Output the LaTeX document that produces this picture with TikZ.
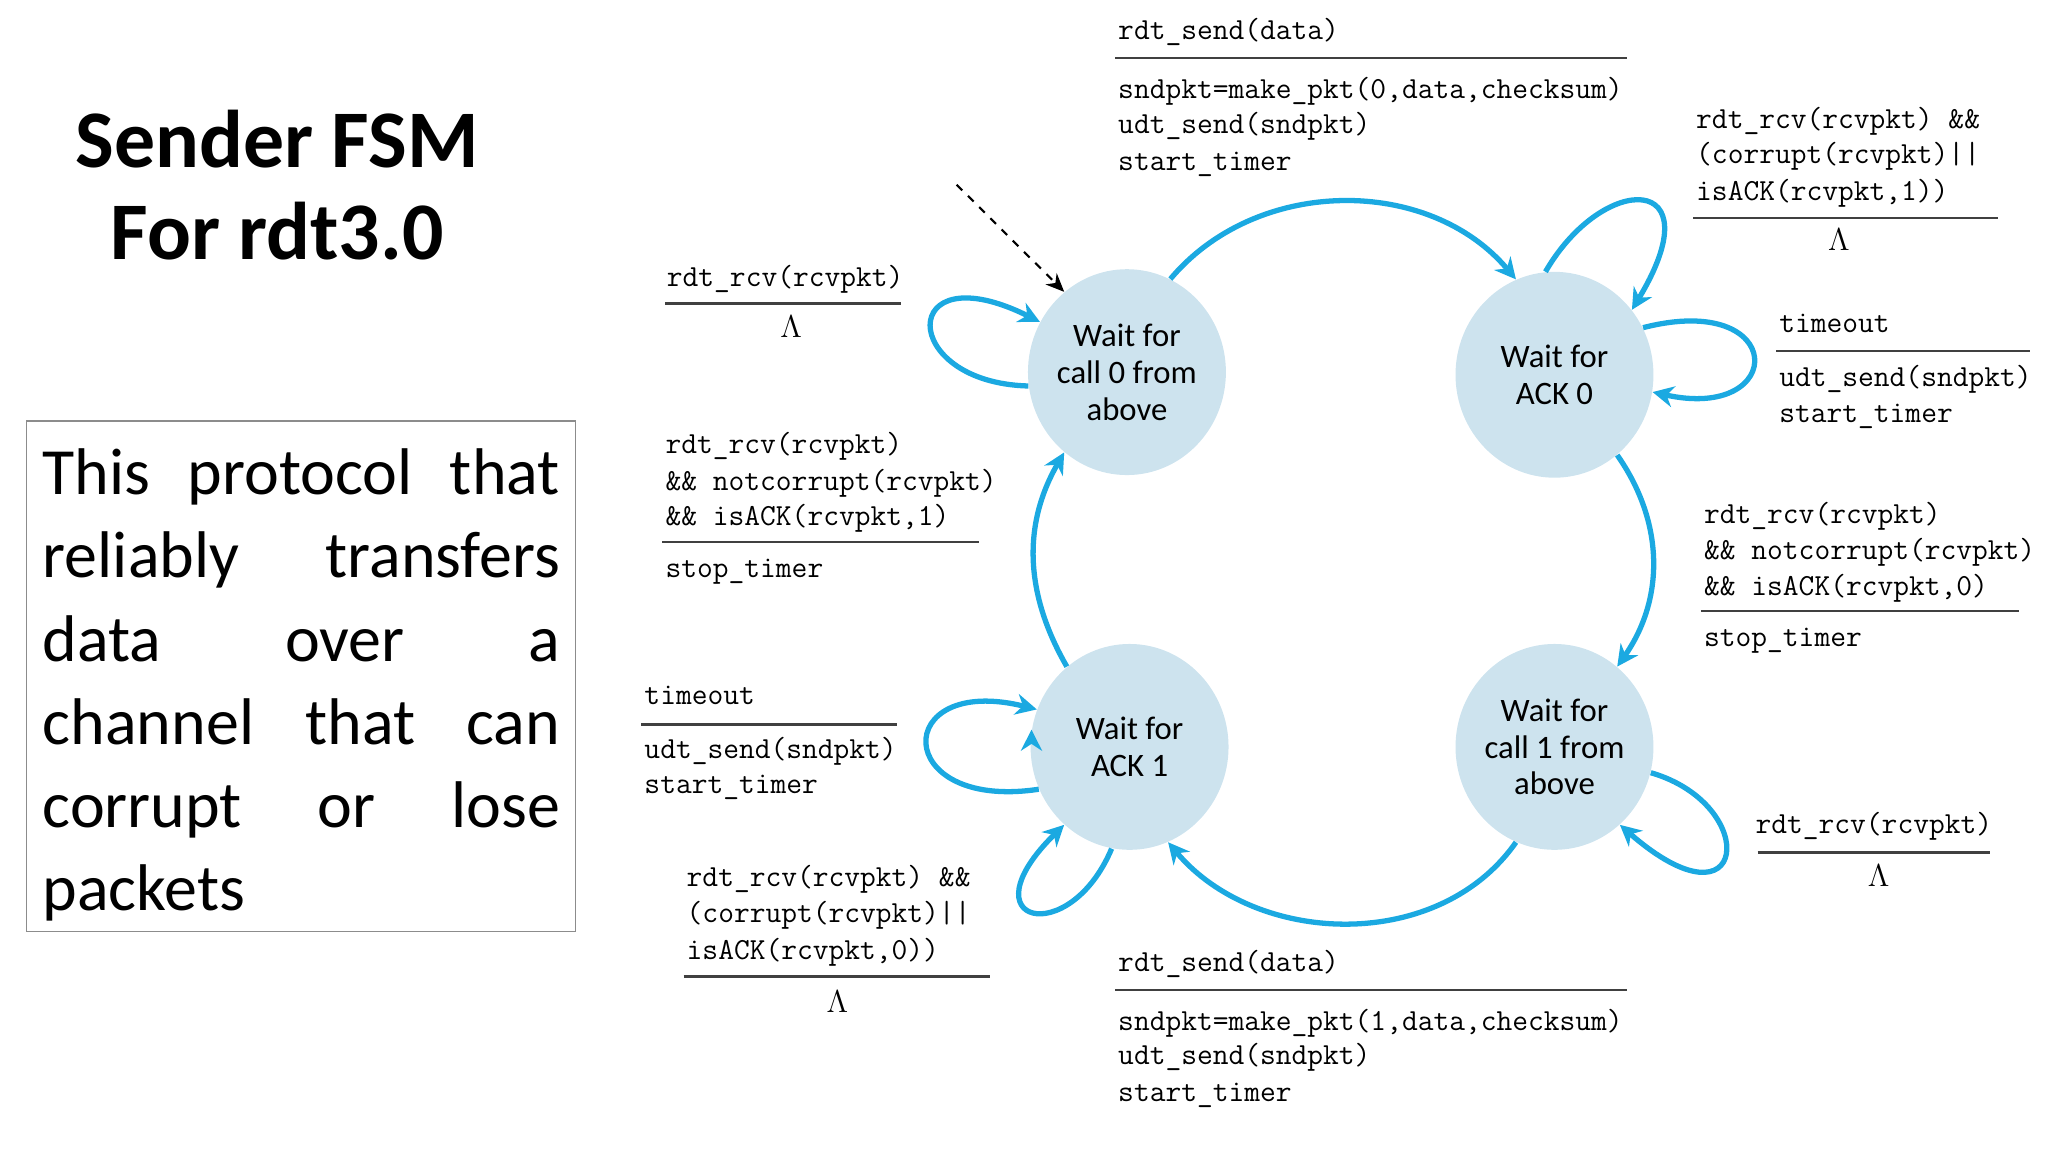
\documentclass[tikz,border=0pt]{standalone}
\usepackage{fontspec}
\setmainfont{Carlito}
\usetikzlibrary{shapes.geometric,arrows.meta}
\definecolor{arr}{HTML}{1BA9E1}
\definecolor{st}{HTML}{CDE3EE}
\begin{document}
\begin{tikzpicture}[x=0.5pt,y=-0.5pt,
  state/.style={ellipse,fill=st,minimum width=75pt,minimum height=78pt,inner sep=0pt,align=center,font=\fontsize{12.4}{14}\selectfont},
  tr/.style={draw=arr,line width=2pt,-{Stealth[length=8pt,width=8pt]}},
  lab/.style={anchor=base west,inner sep=0pt,font=\fontsize{11.6}{13.5}\ttfamily},
  rule/.style={draw=black!75,line width=0.8pt},
  box/.style={anchor=base west,inner sep=0pt,font=\fontsize{25}{30}\selectfont}]
\useasboundingbox (0,0) rectangle (1552,873);
% title
\node[inner sep=0pt,anchor=base,font=\fontsize{31}{34}\selectfont\bfseries] (t1) at (210,127) {Sender FSM};
\node[inner sep=0pt,anchor=base,font=\fontsize{31}{34}\selectfont\bfseries] (t2) at (210,197) {For rdt3.0};
% text box
\draw[draw=black!45,line width=0.6pt] (20,319) rectangle (436,706);
\node[box] (b1) at (32,375) {\makebox[196pt][s]{This protocol that}};
\node[box] (b2) at (32,438) {\makebox[196pt][s]{reliably transfers}};
\node[box] (b3) at (32,501) {\makebox[196pt][s]{data over a}};
\node[box] (b4) at (32,564) {\makebox[196pt][s]{channel that can}};
\node[box] (b5) at (32,627) {\makebox[196pt][s]{corrupt or lose}};
\node[box] (b6) at (32,690) {packets};
% states
\node[state] (w0) at (854,282) {Wait for\\call 0 from\\above};
\node[state] (a0) at (1178,284) {Wait for\\ACK 0};
\node[state] (a1) at (856,566) {Wait for\\ACK 1};
\node[state] (w1) at (1178,566) {Wait for\\call 1 from\\above};
% initial
\coordinate (init) at (725,140);
\draw[dashed,line width=0.8pt,-{Stealth[length=7pt,width=6pt]}] (init) -- (w0.128);
% main transitions
\draw[tr] (w0.65) to[out=50,in=130] (a0.112);
\draw[tr] (a0.-52) to[out=-55,in=55] (w1.52);
\draw[tr] (w1.-112) to[out=-125,in=-50] (a1.-68);
\draw[tr] (a1.128) to[out=120,in=-120] (w0.-128);
% self loops
\draw[tr] (w0.188) .. controls (680,290) and (680,190) .. (w0.150);
\draw[tr] (a0.95) .. controls (1215,130) and (1300,130) .. (a0.40);
\draw[tr] (a0.28) .. controls (1355,220) and (1355,320) .. (a0.-10);
\draw[tr] (a1.-30+200) ;
\draw[tr] (a1.-155) .. controls (675,615) and (675,510) .. (a1.158);
\draw[tr] (a1.-100) .. controls (810,720) and (730,700) .. (a1.-130);
\draw[tr] (w1.-15) .. controls (1335,610) and (1325,710) .. (w1.-50);
% labels
\node[lab] (l1a) at (847,30) {rdt\_send(data)};
\draw[rule] (845,44) -- (1233,44);
\node[lab] (l1b) at (847,75) {sndpkt=make\_pkt(0,data,checksum)};
\node[lab] (l1c) at (847,101) {udt\_send(sndpkt)};
\node[lab] (l1d) at (847,129) {start\_timer};
\node[lab] (l2a) at (1285,97) {rdt\_rcv(rcvpkt) \&\&};
\node[lab] (l2b) at (1285,124) {(corrupt(rcvpkt)||};
\node[lab] (l2c) at (1285,152) {isACK(rcvpkt,1))};
\draw[rule] (1283,165) -- (1514,165);
\node[lab] (l2d) at (1385,190) {$\Lambda$};
\node[lab] (l3a) at (1348,252) {timeout};
\draw[rule] (1346,266) -- (1538,266);
\node[lab] (l3b) at (1348,293) {udt\_send(sndpkt)};
\node[lab] (l3c) at (1348,320) {start\_timer};
\node[lab] (l4a) at (1291,397) {rdt\_rcv(rcvpkt)};
\node[lab] (l4b) at (1291,424) {\&\& notcorrupt(rcvpkt)};
\node[lab] (l4c) at (1291,451) {\&\& isACK(rcvpkt,0)};
\draw[rule] (1289,463) -- (1530,463);
\node[lab] (l4d) at (1291,490) {stop\_timer};
\node[lab] (l5a) at (1330,632) {rdt\_rcv(rcvpkt)};
\draw[rule] (1332,646) -- (1508,646);
\node[lab] (l5b) at (1415,672) {$\Lambda$};
\node[lab] (l6a) at (847,736) {rdt\_send(data)};
\draw[rule] (845,750) -- (1233,750);
\node[lab] (l6b) at (847,781) {sndpkt=make\_pkt(1,data,checksum)};
\node[lab] (l6c) at (847,807) {udt\_send(sndpkt)};
\node[lab] (l6d) at (847,835) {start\_timer};
\node[lab] (l7a) at (520,672) {rdt\_rcv(rcvpkt) \&\&};
\node[lab] (l7b) at (520,699) {(corrupt(rcvpkt)||};
\node[lab] (l7c) at (520,727) {isACK(rcvpkt,0))};
\draw[rule] (518,740) -- (750,740);
\node[lab] (l7d) at (626,767) {$\Lambda$};
\node[lab] (l8a) at (488,534) {timeout};
\draw[rule] (486,549) -- (680,549);
\node[lab] (l8b) at (488,575) {udt\_send(sndpkt)};
\node[lab] (l8c) at (488,601) {start\_timer};
\node[lab] (l9a) at (504,344) {rdt\_rcv(rcvpkt)};
\node[lab] (l9b) at (504,372) {\&\& notcorrupt(rcvpkt)};
\node[lab] (l9c) at (504,398) {\&\& isACK(rcvpkt,1)};
\draw[rule] (502,411) -- (742,411);
\node[lab] (l9d) at (504,438) {stop\_timer};
\node[lab] (l10a) at (505,217) {rdt\_rcv(rcvpkt)};
\draw[rule] (504,230) -- (683,230);
\node[lab] (l10b) at (591,256) {$\Lambda$};
\end{tikzpicture}
\end{document}
